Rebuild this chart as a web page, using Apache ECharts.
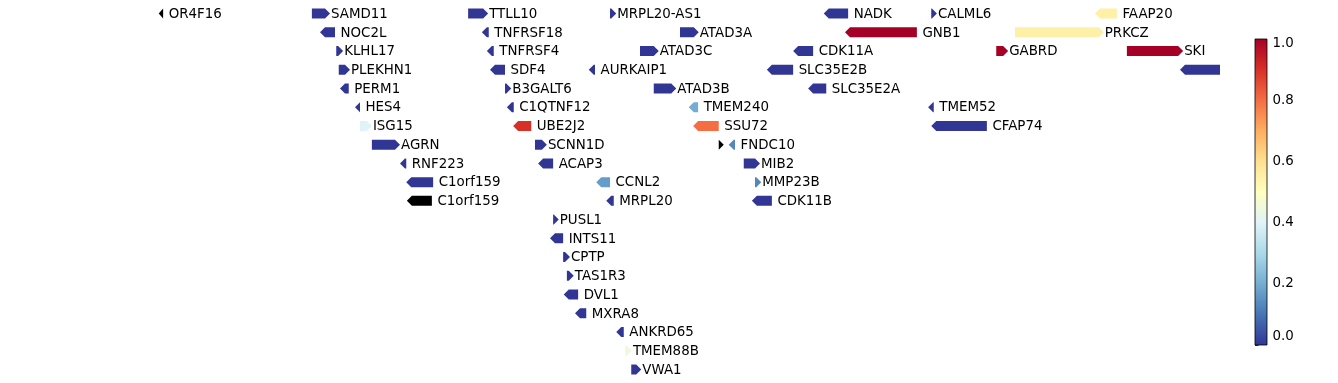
<!DOCTYPE html>
<html>
<head>
<meta charset="utf-8">
<script src="https://cdn.jsdelivr.net/npm/echarts@6/dist/echarts.min.js"></script>
<style>html,body{margin:0;padding:0;background:#fff}#c{width:1338px;height:383px}</style>
</head>
<body>
<div id="c"></div>
<script>
// Gene track data (positions in kb, rows counted from top, strand +1/-1, value 0..1, null = missing)
const geneNames  = ['OR4F16','SAMD11','TTLL10','MRPL20-AS1','NADK','CALML6','FAAP20',
  'NOC2L','TNFRSF18','ATAD3A','GNB1','PRKCZ',
  'KLHL17','TNFRSF4','ATAD3C','CDK11A','GABRD','SKI',
  'PLEKHN1','SDF4','AURKAIP1','SLC35E2B','MORN1',
  'PERM1','B3GALT6','ATAD3B','SLC35E2A',
  'HES4','C1QTNF12','TMEM240','TMEM52',
  'ISG15','UBE2J2','SSU72','CFAP74',
  'AGRN','SCNN1D','','FNDC10',
  'RNF223','ACAP3','MIB2',
  'C1orf159','CCNL2','MMP23B',
  'C1orf159','MRPL20','CDK11B',
  'PUSL1','INTS11','CPTP','TAS1R3','DVL1','MXRA8','ANKRD65','TMEM88B','VWA1'];
const geneStart  = [674,919,1169,1396,1738,1910,2172,
  932,1191,1508,1772,2044,
  958,1199,1444,1689,2014,2223,
  962,1204,1362,1647,2308,
  964,1228,1466,1713,
  988,1231,1522,1905,
  996,1241,1529,1910,
  1015,1276,1570,1586,
  1060,1281,1610,
  1070,1374,1628,
  1071,1390,1623,
  1305,1300,1321,1327,1322,1340,1406,1420,1430];
const geneEnd    = [681,948,1201,1406,1777,1919,2207,
  956,1202,1538,1887,2186,
  969,1210,1474,1721,2033,2313,
  980,1228,1372,1689,2380,
  978,1238,1502,1742,
  996,1242,1537,1914,
  1015,1270,1570,1999,
  1060,1295,1578,1596,
  1070,1305,1636,
  1113,1396,1638,
  1111,1402,1655,
  1314,1321,1332,1338,1345,1358,1418,1431,1446];
const geneRow    = [0,0,0,0,0,0,0,
  1,1,1,1,1,
  2,2,2,2,2,2,
  3,3,3,3,3,
  4,4,4,4,
  5,5,5,5,
  6,6,6,6,
  7,7,7,7,
  8,8,8,
  9,9,9,
  10,10,10,
  11,12,13,14,15,16,17,18,19];
const geneStrand = [-1,1,1,1,-1,1,-1,
  -1,-1,1,-1,1,
  1,-1,1,-1,1,1,
  1,-1,-1,-1,-1,
  -1,1,1,-1,
  -1,-1,-1,-1,
  1,-1,-1,-1,
  1,1,1,-1,
  -1,-1,1,
  -1,-1,1,
  -1,-1,-1,
  1,-1,1,1,-1,-1,-1,1,1];
const geneValue  = [null,0,0,0,0,0,0.55,
  0,0,0,1.0,0.55,
  0,0,0,0,1.0,1.0,
  0,0,0,0,0,
  0,0,0,0,
  0,0,0.2,0,
  0.4,0.9,0.8,0,
  0,0,null,0.13,
  0,0,0,
  0,0.17,0.13,
  null,0,0,
  0,0,0,0,0,0,0,0.45,0];
const xRange = [420, 2372];
const colorbarTicks = [0, 0.2, 0.4, 0.6, 0.8, 1.0];

const RDYLBU_R = ['#313695','#4575b4','#74add1','#abd9e9','#e0f3f8','#ffffbf','#fee090','#fdae61','#f46d43','#d73027','#a50026'];
function hex2rgb(h){return [parseInt(h.substr(1,2),16),parseInt(h.substr(3,2),16),parseInt(h.substr(5,2),16)];}
function cmap(v){
  if(v===null||v===undefined) return '#000000';
  const t=Math.max(0,Math.min(1,v))*10;
  const i=Math.min(9,Math.floor(t)), f=t-i;
  const a=hex2rgb(RDYLBU_R[i]), b=hex2rgb(RDYLBU_R[i+1]);
  const c=a.map((x,k)=>Math.round(x+(b[k]-x)*f));
  return 'rgb('+c.join(',')+')';
}

const data = geneNames.map((n,i)=>[geneStart[i],geneEnd[i],geneRow[i],geneStrand[i],geneValue[i],n]);
const FONT = '"DejaVu Sans", sans-serif';
const FS = 13.4;

const chart = echarts.init(document.getElementById('c'), null, {renderer:'canvas'});
chart.setOption({
  animation:false,
  backgroundColor:'#ffffff',
  grid:[
    {left:0, top:13.5, width:1220, height:356, show:false},
    {left:1255, top:39, width:12, height:306, show:false}
  ],
  xAxis:[
    {gridIndex:0, type:'value', min:xRange[0], max:xRange[1], show:false},
    {gridIndex:1, type:'value', min:0, max:1, show:false}
  ],
  yAxis:[
    {gridIndex:0, type:'value', min:0, max:19, inverse:true, show:false},
    {gridIndex:1, type:'value', min:colorbarTicks[0], max:colorbarTicks[colorbarTicks.length-1], interval:0.2, position:'right',
     axisLine:{show:false}, splitLine:{show:false},
     axisTick:{show:true, length:3.5, lineStyle:{color:'#000', width:0.8}},
     axisLabel:{margin:5.5, color:'#000', fontFamily:FONT, fontSize:FS,
       formatter:function(v){
         const s=v.toFixed(1);
         if(Math.abs(v-1)<1e-9) return '{top|'+s+'}';
         if(Math.abs(v)<1e-9) return '{bot|'+s+'}';
         return s;
       },
       rich:{
         top:{padding:[10,0,0,0], fontFamily:FONT, fontSize:FS, color:'#000'},
         bot:{padding:[0,0,16,0], fontFamily:FONT, fontSize:FS, color:'#000'}
       }}
    }
  ],
  series:[
    {
      type:'custom', xAxisIndex:0, yAxisIndex:0, clip:false,
      data:data,
      renderItem:function(params, api){
        const s=api.value(0), e=api.value(1), r=api.value(2), strand=api.value(3);
        const raw=data[params.dataIndex];
        const val=raw[4], name=raw[5];
        const p0=api.coord([s,r]), p1=api.coord([e,r]);
        const cs=params.coordSys;
        const right=cs.x+cs.width;
        let x0=p0[0], x1=p1[0];
        const y=p0[1], hh=5;
        const head=Math.min(5, x1-x0);
        let pts;
        if(strand>0){
          pts=[[x0,y-hh],[x1-head,y-hh],[x1,y],[x1-head,y+hh],[x0,y+hh]];
        } else {
          pts=[[x1,y-hh],[x0+head,y-hh],[x0,y],[x0+head,y+hh],[x1,y+hh]];
        }
        pts=pts.map(p=>[Math.min(p[0],right),p[1]]);
        const children=[{
          type:'polygon', shape:{points:pts},
          style:{fill:cmap(val), stroke:null}
        }];
        const lx = strand>0 ? x1+1 : x1+5.5;
        if(name && lx<right){
          children.push({
            type:'text',
            style:{x:lx, y:y+0.8, text:name, fill:'#000', font:FS+'px '+FONT,
                   textAlign:'left', textVerticalAlign:'middle'}
          });
        }
        return {type:'group', children:children};
      }
    },
    {
      type:'custom', xAxisIndex:1, yAxisIndex:1, clip:false,
      data:[[0,0]],
      renderItem:function(params, api){
        const cs=params.coordSys;
        const stops=RDYLBU_R.map((c,i)=>({offset:i/10, color:c}));
        return {
          type:'rect',
          shape:{x:cs.x, y:cs.y, width:cs.width, height:cs.height},
          style:{
            fill:new echarts.graphic.LinearGradient(0,1,0,0,stops),
            stroke:'#000', lineWidth:0.8
          }
        };
      }
    }
  ]
});
</script>
</body>
</html>
